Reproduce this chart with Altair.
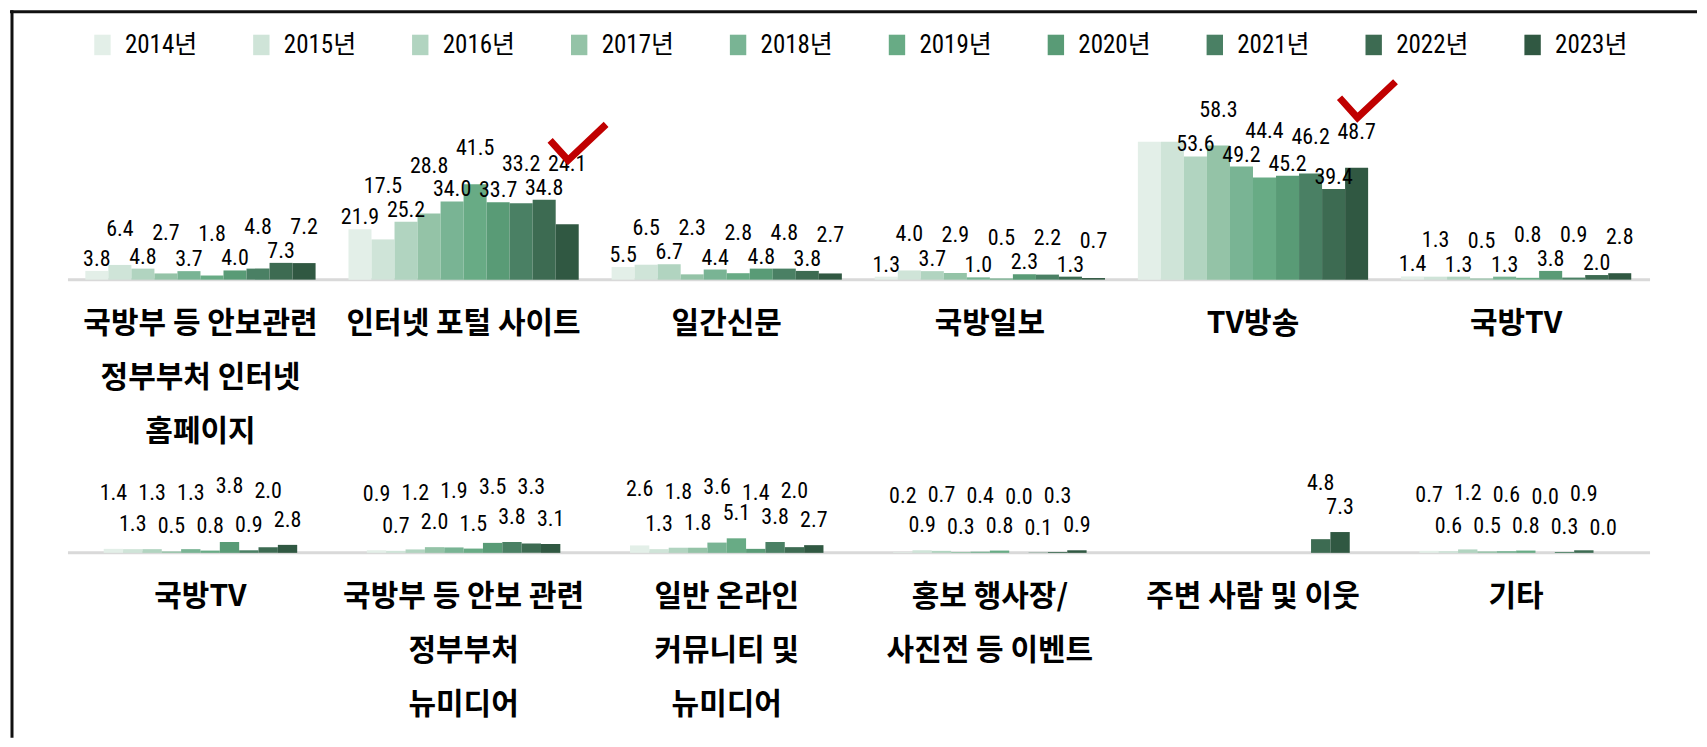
import altair as alt
import pandas as pd

years = ["2014년", "2015년", "2016년", "2017년", "2018년", "2019년", "2020년", "2021년", "2022년", "2023년"]
colors = ["#e3efe8", "#cfe4d8", "#b1d4c0", "#94c3a7", "#79b494", "#68ab85", "#599b76", "#4a8064", "#3d6b52", "#305842"]

# Row 1 categories (name, label lines)
top_names = ["국방부 등 안보관련 정부부처 인터넷 홈페이지", "인터넷 포털 사이트", "일간신문", "국방일보", "TV방송", "국방TV"]
top_labels = ["국방부 등 안보관련\n정부부처 인터넷\n홈페이지", "인터넷 포털 사이트", "일간신문", "국방일보", "TV방송", "국방TV"]
v_homepage = [3.8, 6.4, 4.8, 2.7, 3.7, 1.8, 4.0, 4.8, 7.3, 7.2]
v_portal = [21.9, 17.5, 25.2, 28.8, 34.0, 41.5, 33.7, 33.2, 34.8, 24.1]
v_daily = [5.5, 6.5, 6.7, 2.3, 4.4, 2.8, 4.8, 4.8, 3.8, 2.7]
v_ilbo = [1.3, 4.0, 3.7, 2.9, 1.0, 0.5, 2.3, 2.2, 1.3, 0.7]
v_tv = [60.0, 60.0, 53.6, 58.3, 49.2, 44.4, 45.2, 46.2, 39.4, 48.7]
v_ktv = [1.4, 1.3, 1.3, 0.5, 1.3, 0.8, 3.8, 0.9, 2.0, 2.8]

# Row 2 categories
bot_names = ["국방TV", "국방부 등 안보 관련 정부부처 뉴미디어", "일반 온라인 커뮤니티 및 뉴미디어", "홍보 행사장/사진전 등 이벤트", "주변 사람 및 이웃", "기타"]
bot_labels = ["국방TV", "국방부 등 안보 관련\n정부부처\n뉴미디어", "일반 온라인\n커뮤니티 및\n뉴미디어", "홍보 행사장/\n사진전 등 이벤트", "주변 사람 및 이웃", "기타"]
v_ktv2 = [1.4, 1.3, 1.3, 0.5, 1.3, 0.8, 3.8, 0.9, 2.0, 2.8]
v_newmedia = [0.9, 0.7, 1.2, 2.0, 1.9, 1.5, 3.5, 3.8, 3.3, 3.1]
v_community = [2.6, 1.3, 1.8, 1.8, 3.6, 5.1, 1.4, 3.8, 2.0, 2.7]
v_event = [0.2, 0.9, 0.7, 0.3, 0.4, 0.8, 0.0, 0.1, 0.3, 0.9]
v_neighbors = [None, None, None, None, None, None, None, None, 4.8, 7.3]
v_etc = [0.7, 0.6, 1.2, 0.5, 0.6, 0.8, 0.0, 0.3, 0.9, 0.0]

hidden_labels = [("TV방송", "2014년"), ("TV방송", "2015년")]
checked = ["인터넷 포털 사이트", "TV방송"]

top_series = [v_homepage, v_portal, v_daily, v_ilbo, v_tv, v_ktv]
bot_series = [v_ktv2, v_newmedia, v_community, v_event, v_neighbors, v_etc]


def make_df(names, series):
    rows = []
    for name, vals in zip(names, series):
        for i, (y, v) in enumerate(zip(years, vals)):
            if v is None:
                continue
            rows.append({"category": name, "year": y, "value": v, "odd": i % 2 == 1,
                         "show": (name, y) not in hidden_labels, "checked": name in checked})
    return pd.DataFrame(rows)


top_df = make_df(top_names, top_series)
bot_df = make_df(bot_names, bot_series)

W = 1688
H1, H2 = 452, 276
NUM_FONT = "Liberation Sans Narrow, Roboto Condensed, DejaVu Sans Condensed, Noto Sans CJK KR, sans-serif"
KR_FONT = "Noto Sans CJK KR"
one = pd.DataFrame({"v": [0]})


def xscale():
    return alt.Scale(paddingInner=0.125, paddingOuter=0.2681, align=0.534)


def row_chart(df, names, labels, ydomain, height, off_pad, high_dy, low_dy, high_is_odd, use_nb, legend, extra):
    x = alt.X("category:N", sort=names, axis=None, scale=xscale())
    xo = alt.XOffset("year:N", sort=years, scale=alt.Scale(paddingInner=0, paddingOuter=off_pad))
    yscale = alt.Scale(domain=ydomain, nice=False, zero=False)
    y = alt.Y("value:Q", axis=None, scale=yscale)
    color = alt.Color("year:N", sort=years, scale=alt.Scale(domain=years, range=colors), legend=legend)
    base = alt.Chart(df)
    bars = base.mark_bar(opacity=1).encode(x=x, xOffset=xo, y=y, color=color)
    baseline = alt.Chart(one).mark_rule(color="#d9d9d9", strokeWidth=3).encode(
        x=alt.value(58), x2=alt.value(1641), y=alt.Y("v:Q", axis=None, scale=yscale))
    # upper-row labels sit above the taller of the bar and its direct neighbours
    lab_base = base.transform_window(
        nbmax="max(value)", frame=[-1, 1], groupby=["category"], sort=[alt.SortField("year")]
    )
    hy = alt.Y("nbmax:Q" if use_nb else "value:Q", axis=None, scale=yscale)
    hi_filter = alt.datum.odd if high_is_odd else ~alt.datum.odd
    lo_filter = ~alt.datum.odd if high_is_odd else alt.datum.odd
    lab_hi = lab_base.transform_filter(alt.datum.show & hi_filter).mark_text(
        font=NUM_FONT, fontSize=22, color="#000", baseline="middle", dy=high_dy).encode(
        x=x, xOffset=xo, y=hy, text=alt.Text("value:Q", format=".1f"))
    lab_lo = base.transform_filter(alt.datum.show & lo_filter).mark_text(
        font=NUM_FONT, fontSize=22, color="#000", baseline="middle", dy=low_dy).encode(
        x=x, xOffset=xo, y=y, text=alt.Text("value:Q", format=".1f"))
    cat_df = pd.DataFrame({"category": names, "label": labels, "v": [0] * len(names)})
    cats = alt.Chart(cat_df).mark_text(font=KR_FONT, fontSize=30, fontWeight="bold", color="#000",
                                       baseline="middle", lineBreak="\n", lineHeight=54, dy=44).encode(
        x=alt.X("category:N", sort=names, axis=None, scale=xscale()),
        y=alt.Y("v:Q", axis=None, scale=yscale), text="label:N")
    frame_left = alt.Chart(one).mark_rule(color="#111", strokeWidth=3).encode(
        x=alt.value(2), y=alt.value(0), y2=alt.value(height))
    layers = [baseline, bars, lab_hi, lab_lo, cats, frame_left] + extra(x, xo, yscale)
    return alt.layer(*layers).properties(width=W, height=height)


legend = alt.Legend(orient="none", legendX=80, legendY=22, direction="horizontal", columns=10, title=None,
                    labelFont=NUM_FONT, labelFontSize=25, labelColor="#000", labelOffset=10, columnPadding=51,
                    symbolType="M-0.8,-1H0.8V1H-0.8Z", symbolSize=420, symbolStrokeWidth=0,
                    symbolOpacity=1, padding=0)


def top_extra(x, xo, yscale):
    check = alt.Chart(top_df).transform_joinaggregate(
        gmax="max(value)", groupby=["category"]
    ).transform_filter(
        alt.datum.checked & (alt.datum.year == years[-1])
    ).mark_point(shape="M-0.61,-1.57L0.03,-0.86L1.39,-2.14", size=3136, filled=False, stroke="#c00000",
                 strokeWidth=7, opacity=1, strokeCap="butt").encode(
        x=x, xOffset=xo, y=alt.Y("gmax:Q", axis=None, scale=yscale))
    frame_top = alt.Chart(one).mark_rule(color="#111", strokeWidth=3).encode(
        x=alt.value(0), x2=alt.value(W), y=alt.value(1.5))
    return [check, frame_top]


row1 = row_chart(top_df, top_names, top_labels, [-79.3, 117.2], H1, 0, -36, -12, True, True, legend, top_extra)
row2 = row_chart(bot_df, bot_names, bot_labels, [-64.9, 31.9], H2, 0.95, -56, -25, False, False, None,
                 lambda x, xo, ys: [])

chart = alt.vconcat(row1, row2, spacing=0, bounds="flush").resolve_scale(
    x="independent", y="independent", xOffset="independent", color="shared"
).properties(padding=0, background="white").configure_view(stroke=None)

chart.save("out.html", embed_options={"renderer": "svg", "actions": False})
